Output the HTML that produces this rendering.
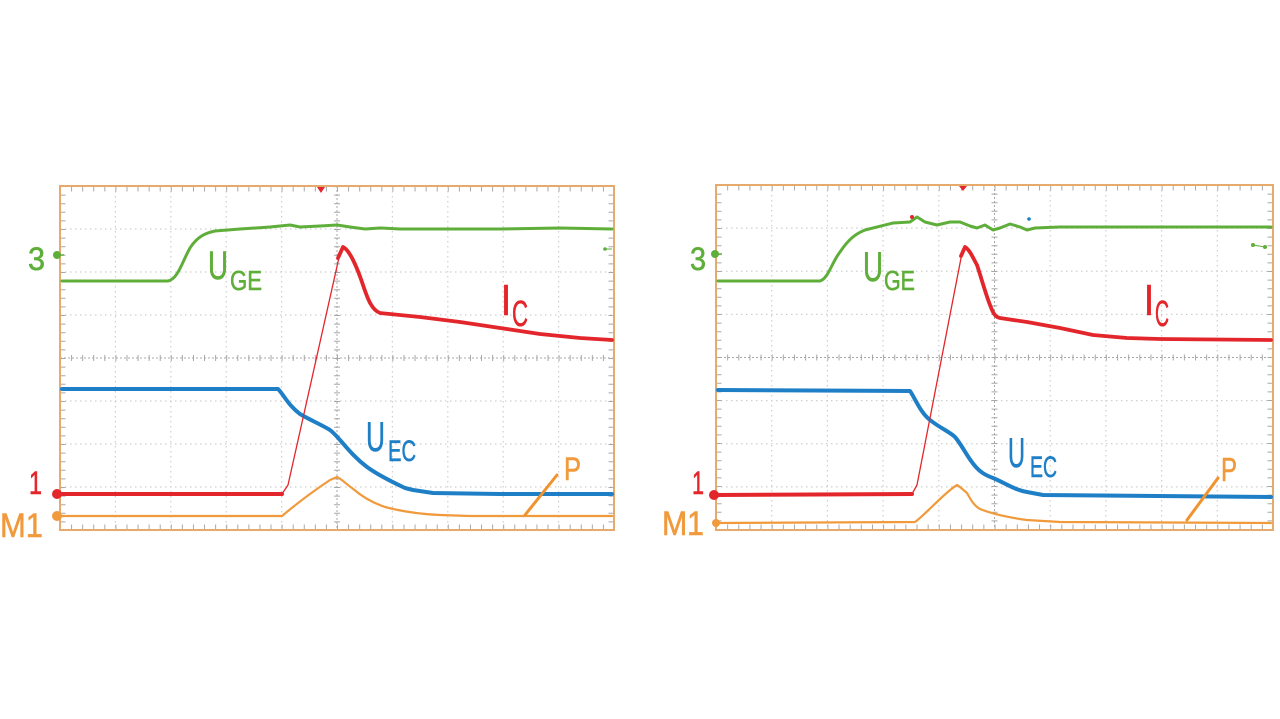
<!DOCTYPE html>
<html><head><meta charset="utf-8"><style>
html,body{margin:0;padding:0;background:#fff;}
svg{display:block;}
text{font-family:"Liberation Sans",sans-serif;stroke-width:0.6;}
</style></head><body>
<svg width="1280" height="719" viewBox="0 0 1280 719" xmlns="http://www.w3.org/2000/svg">
<rect width="1280" height="719" fill="#fff"/>

<!-- LEFT GRID -->
<g>
<g stroke="#cfcfcf" stroke-width="1.2" stroke-dasharray="1.5 3.5" fill="none">
<path d="M115.4,186V530M170.8,186V530M226.2,186V530M281.6,186V530M392.4,186V530M447.8,186V530M503.2,186V530M558.6,186V530"/>
<path d="M60,229H614M60,272H614M60,315H614M60,401H614M60,444H614M60,487H614"/>
</g>
<g stroke="#a8a8a8" fill="none">
<path d="M337,186V530M60,358H614" stroke-width="1" stroke-dasharray="2 2"/>
<path d="M337,186V530" stroke-width="6" stroke-dasharray="1 7.6"/>
<path d="M60,358H614" stroke-width="6" stroke-dasharray="1 10.08"/>
<path d="M60,189H614M60,527H614" stroke-width="5" stroke-dasharray="1 10.08"/>
<path d="M63,186V530M611,186V530" stroke-width="5" stroke-dasharray="1 7.6"/>
</g>
<rect x="60" y="186" width="554" height="344" fill="none" stroke="#e6aa6c" stroke-width="2"/>
</g>

<!-- RIGHT GRID -->
<g>
<g stroke="#cfcfcf" stroke-width="1.2" stroke-dasharray="1.5 3.5" fill="none">
<path d="M771.7,185V530M827.4,185V530M883.1,185V530M938.8,185V530M1050.2,185V530M1105.9,185V530M1161.6,185V530M1217.3,185V530"/>
<path d="M716,228.1H1273M716,271.25H1273M716,314.4H1273M716,400.6H1273M716,443.75H1273M716,486.9H1273"/>
</g>
<g stroke="#a8a8a8" fill="none">
<path d="M994.5,185V530M716,357.5H1273" stroke-width="1" stroke-dasharray="2 2"/>
<path d="M994.5,185V530" stroke-width="6" stroke-dasharray="1 7.6"/>
<path d="M716,357.5H1273" stroke-width="6" stroke-dasharray="1 10.14"/>
<path d="M716,188H1273M716,527H1273" stroke-width="5" stroke-dasharray="1 10.14"/>
<path d="M719,185V530M1270,185V530" stroke-width="5" stroke-dasharray="1 7.6"/>
</g>
<rect x="716" y="185" width="557" height="345" fill="none" stroke="#e6aa6c" stroke-width="2"/>
</g>

<!-- LEFT TRACES -->
<g fill="none" stroke-linejoin="round" stroke-linecap="round">
<path d="M62,281 L168,281 C178,279 182,262 190,248 C197,237 205,233 215,231 L240,229 L270,227 L290,225 L300,227 L320,226 L337,225 L350,227 L365,229 L380,228 L400,229 L450,229 L500,229 L560,228 L612,229" stroke="#5fae3a" stroke-width="3"/>
<path d="M62,389 L278,389 C284,395 288,405 300,414 C310,420 322,425 330,430 C335,434 337,437 340,440 C347,448 355,458 367,467 C378,475 390,481 405,488 L413,490 L433,493 L500,494 L612,494" stroke="#1e7fc6" stroke-width="4"/>
<path d="M62,516 L282,516 C295,505 315,490 330,480 L337,477 C343,480 346,484 352,488 C360,495 370,502 385,507 C400,511 420,514 440,515 L470,516 L612,516" stroke="#f09a3c" stroke-width="2.2"/>
<path d="M62,494 L282,494" stroke="#e3262b" stroke-width="4"/>
<path d="M282,494 L288,485 L340,253" stroke="#e3262b" stroke-width="1.3"/>
<path d="M338,258 L343,247 C350,250 358,270 363,285 C368,300 372,310 380,313 L420,317 L460,322 L500,328 L540,334 L580,338 L612,340" stroke="#e3262b" stroke-width="3.8"/>
<path d="M557,475 L525,515" stroke="#f0922e" stroke-width="3"/>
</g>
<path d="M317,187 L325,187 L321,193 Z" fill="#e3262b"/>
<circle cx="605" cy="249" r="1.8" fill="#5fae3a"/>
<line x1="605" y1="249" x2="612" y2="249" stroke="#5fae3a" stroke-width="1"/>

<!-- LEFT MARKERS & LABELS -->
<circle cx="57" cy="255" r="4" fill="#5fae3a"/><line x1="57" y1="255" x2="64" y2="255" stroke="#5fae3a" stroke-width="1.5"/>
<circle cx="57" cy="494" r="5" fill="#e3262b"/>
<circle cx="57" cy="516" r="5" fill="#f09a3c"/>
<text x="28" y="270" font-size="32" fill="#5fae3a" stroke="#5fae3a" textLength="17" lengthAdjust="spacingAndGlyphs">3</text>
<text x="29" y="494" font-size="32" fill="#e3262b" stroke="#e3262b" textLength="13" lengthAdjust="spacingAndGlyphs">1</text>
<text x="0" y="537" font-size="34" fill="#f09a3c" stroke="#f09a3c" textLength="43" lengthAdjust="spacingAndGlyphs">M1</text>
<text x="208" y="279" font-size="40" fill="#5fae3a" stroke="#5fae3a" textLength="20" lengthAdjust="spacingAndGlyphs">U</text>
<text x="230" y="290" font-size="28" fill="#5fae3a" stroke="#5fae3a" textLength="32" lengthAdjust="spacingAndGlyphs">GE</text>
<text x="501" y="315" font-size="44" fill="#e3262b" stroke="#e3262b" textLength="10" lengthAdjust="spacingAndGlyphs">I</text>
<text x="512" y="326" font-size="36" fill="#e3262b" stroke="#e3262b" textLength="16" lengthAdjust="spacingAndGlyphs">C</text>
<text x="366" y="451" font-size="42" fill="#1e7fc6" stroke="#1e7fc6" textLength="19" lengthAdjust="spacingAndGlyphs">U</text>
<text x="388" y="461" font-size="30" fill="#1e7fc6" stroke="#1e7fc6" textLength="28" lengthAdjust="spacingAndGlyphs">EC</text>
<text x="564" y="480" font-size="32" fill="#f09a3c" stroke="#f09a3c" textLength="17" lengthAdjust="spacingAndGlyphs">P</text>

<!-- RIGHT TRACES -->
<g fill="none" stroke-linejoin="round" stroke-linecap="round">
<path d="M718,281 L820,281 C828,279 832,262 840,252 C848,240 855,234 865,230 L893,223 L910,222 L917,217 L925,222 L937,225 L950,222 L960,222 L970,226 L977,228 L985,225 L993,230 L1000,228 L1010,224 L1020,227 L1027,230 L1035,228 L1060,227 L1271,227" stroke="#5fae3a" stroke-width="3"/>
<path d="M718,390 L910,391 C915,398 920,412 930,420 C940,428 950,432 955,437 C962,445 967,457 975,466 C980,472 985,475 993,478 C1005,483 1015,490 1027,492 L1043,495 L1271,497" stroke="#1e7fc6" stroke-width="4"/>
<path d="M718,523 L915,522 C925,515 945,492 957,485 C962,488 964,491 967,493 C970,498 973,505 980,509 C990,513 1005,517 1027,520 L1060,522 L1271,523" stroke="#f09a3c" stroke-width="2.2"/>
<path d="M716,495 L912,494" stroke="#e3262b" stroke-width="4"/>
<path d="M912,494 L917,485 L962,253" stroke="#e3262b" stroke-width="1.3"/>
<path d="M961,256 L965,247 C970,250 973,258 977,265 C982,280 985,292 990,305 C993,313 995,317 1000,318 L1027,322 L1060,328 L1093,335 L1127,338 L1160,339 L1271,340" stroke="#e3262b" stroke-width="3.8"/>
<path d="M1218,478 L1187,520" stroke="#f0922e" stroke-width="3"/>
</g>
<path d="M959,186 L967,186 L963,191 Z" fill="#e3262b"/>
<circle cx="912" cy="217" r="2" fill="#e3262b"/>
<circle cx="1029" cy="219" r="1.8" fill="#1e7fc6"/>
<circle cx="1253" cy="245" r="2" fill="#5fae3a"/>
<circle cx="1265" cy="247" r="2" fill="#5fae3a"/>
<line x1="1253" y1="245" x2="1265" y2="247" stroke="#5fae3a" stroke-width="1"/>

<!-- RIGHT MARKERS & LABELS -->
<circle cx="715" cy="254" r="4" fill="#5fae3a"/><line x1="715" y1="254" x2="722" y2="254" stroke="#5fae3a" stroke-width="1.5"/>
<circle cx="714" cy="495" r="5" fill="#e3262b"/>
<circle cx="716" cy="523" r="4" fill="#f09a3c"/>
<text x="690" y="270" font-size="32" fill="#5fae3a" stroke="#5fae3a" textLength="16" lengthAdjust="spacingAndGlyphs">3</text>
<text x="692" y="494" font-size="32" fill="#e3262b" stroke="#e3262b" textLength="12" lengthAdjust="spacingAndGlyphs">1</text>
<text x="662" y="535" font-size="34" fill="#f09a3c" stroke="#f09a3c" textLength="42" lengthAdjust="spacingAndGlyphs">M1</text>
<text x="863" y="281" font-size="42" fill="#5fae3a" stroke="#5fae3a" textLength="20" lengthAdjust="spacingAndGlyphs">U</text>
<text x="884" y="290" font-size="28" fill="#5fae3a" stroke="#5fae3a" textLength="31" lengthAdjust="spacingAndGlyphs">GE</text>
<text x="1144" y="315" font-size="44" fill="#e3262b" stroke="#e3262b" textLength="10" lengthAdjust="spacingAndGlyphs">I</text>
<text x="1155" y="326" font-size="36" fill="#e3262b" stroke="#e3262b" textLength="14" lengthAdjust="spacingAndGlyphs">C</text>
<text x="1008" y="467" font-size="42" fill="#1e7fc6" stroke="#1e7fc6" textLength="17" lengthAdjust="spacingAndGlyphs">U</text>
<text x="1030" y="477" font-size="30" fill="#1e7fc6" stroke="#1e7fc6" textLength="27" lengthAdjust="spacingAndGlyphs">EC</text>
<text x="1221" y="481" font-size="33" fill="#f09a3c" stroke="#f09a3c" textLength="16" lengthAdjust="spacingAndGlyphs">P</text>
</svg>
</body></html>
